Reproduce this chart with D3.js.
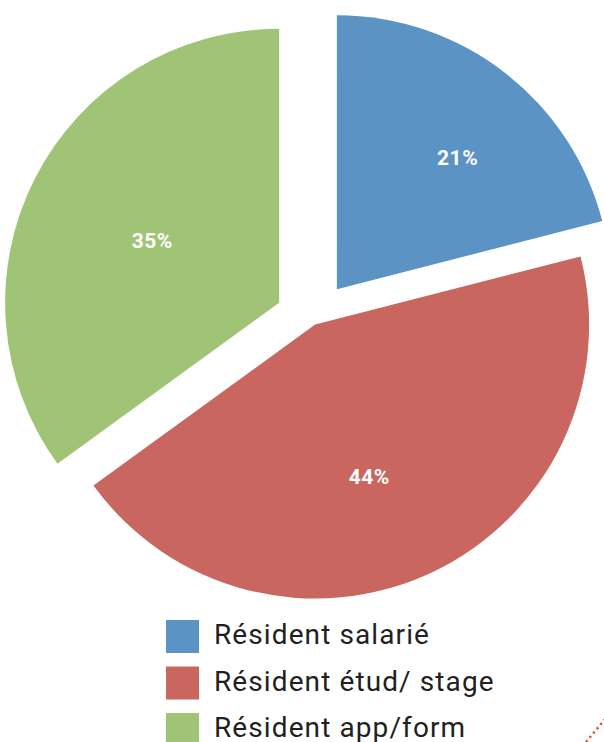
<!DOCTYPE html>
<html>
<head>
<meta charset="utf-8">
<script src="https://cdn.jsdelivr.net/npm/d3@7"></script>
<style>
  html, body { margin: 0; padding: 0; background: #ffffff; }
  svg { display: block; }
</style>
</head>
<body>
<div id="chart"></div>
<script>
// ---- data ----
const categories = ["Résident salarié", "Résident étud/ stage", "Résident app/form"];
const values = [21, 44, 35];
const valueLabels = ["21%", "44%", "35%"];

// ---- style ----
const colors = ["#5B93C5", "#C9665F", "#A0C476"];
const explode = [39, 5, 38];          // outward offset of each slice (px)
const labelRadius = [178, 162, 141];  // distance of each % label from slice tip (px)
const labelTurn = [4.9, 5.7, -1.1];   // angular nudge of each % label (deg)

const W = 604, H = 742;
const cx = 313, cy = 320, R = 274;

const svg = d3.select("#chart").append("svg")
  .attr("width", W).attr("height", H);

svg.append("rect").attr("width", W).attr("height", H).attr("fill", "#ffffff");

const pie = d3.pie().sort(null).value(d => d)
  .startAngle(0).endAngle(2 * Math.PI);
const arcs = pie(values);
const arc = d3.arc().innerRadius(0).outerRadius(R);

const g = svg.append("g").attr("transform", `translate(${cx},${cy})`);

const slices = g.selectAll("g.slice").data(arcs).join("g")
  .attr("class", "slice")
  .attr("transform", (d, i) => {
    const mid = (d.startAngle + d.endAngle) / 2;
    return `translate(${Math.sin(mid) * explode[i]},${-Math.cos(mid) * explode[i]})`;
  });

slices.append("path")
  .attr("d", arc)
  .attr("fill", (d, i) => colors[i]);

slices.append("text")
  .attr("transform", (d, i) => {
    const a = (d.startAngle + d.endAngle) / 2 + labelTurn[i] * Math.PI / 180;
    return `translate(${Math.sin(a) * labelRadius[i]},${-Math.cos(a) * labelRadius[i]})`;
  })
  .attr("text-anchor", "middle")
  .attr("dominant-baseline", "central")
  .attr("fill", "#ffffff")
  .attr("font-family", "Roboto, 'DejaVu Sans', sans-serif")
  .attr("font-weight", 700)
  .attr("font-size", 21)
  .attr("letter-spacing", 0.5)
  .text((d, i) => valueLabels[i]);

// ---- legend ----
const legendY = d3.scalePoint().domain(categories).range([636.5, 729.5]);
const legend = svg.append("g");
const items = legend.selectAll("g").data(categories).join("g")
  .attr("transform", d => `translate(166,${legendY(d)})`);

items.append("rect")
  .attr("x", 0).attr("y", -16.5)
  .attr("width", 33).attr("height", 33)
  .attr("fill", (d, i) => colors[i]);

items.append("text")
  .attr("x", 48).attr("y", 7.5)
  .attr("fill", "#231F20")
  .attr("font-family", "Roboto, 'DejaVu Sans', sans-serif")
  .attr("font-weight", 400)
  .attr("font-size", 28)
  .attr("letter-spacing", 1.1)
  .text(d => d);

// ---- decorative dotted stroke at bottom-right ----
svg.append("line")
  .attr("x1", 586).attr("y1", 742).attr("x2", 606).attr("y2", 718)
  .attr("stroke", "#E94B35")
  .attr("stroke-width", 2.5)
  .attr("stroke-dasharray", "2.2 3.4");
</script>
</body>
</html>
